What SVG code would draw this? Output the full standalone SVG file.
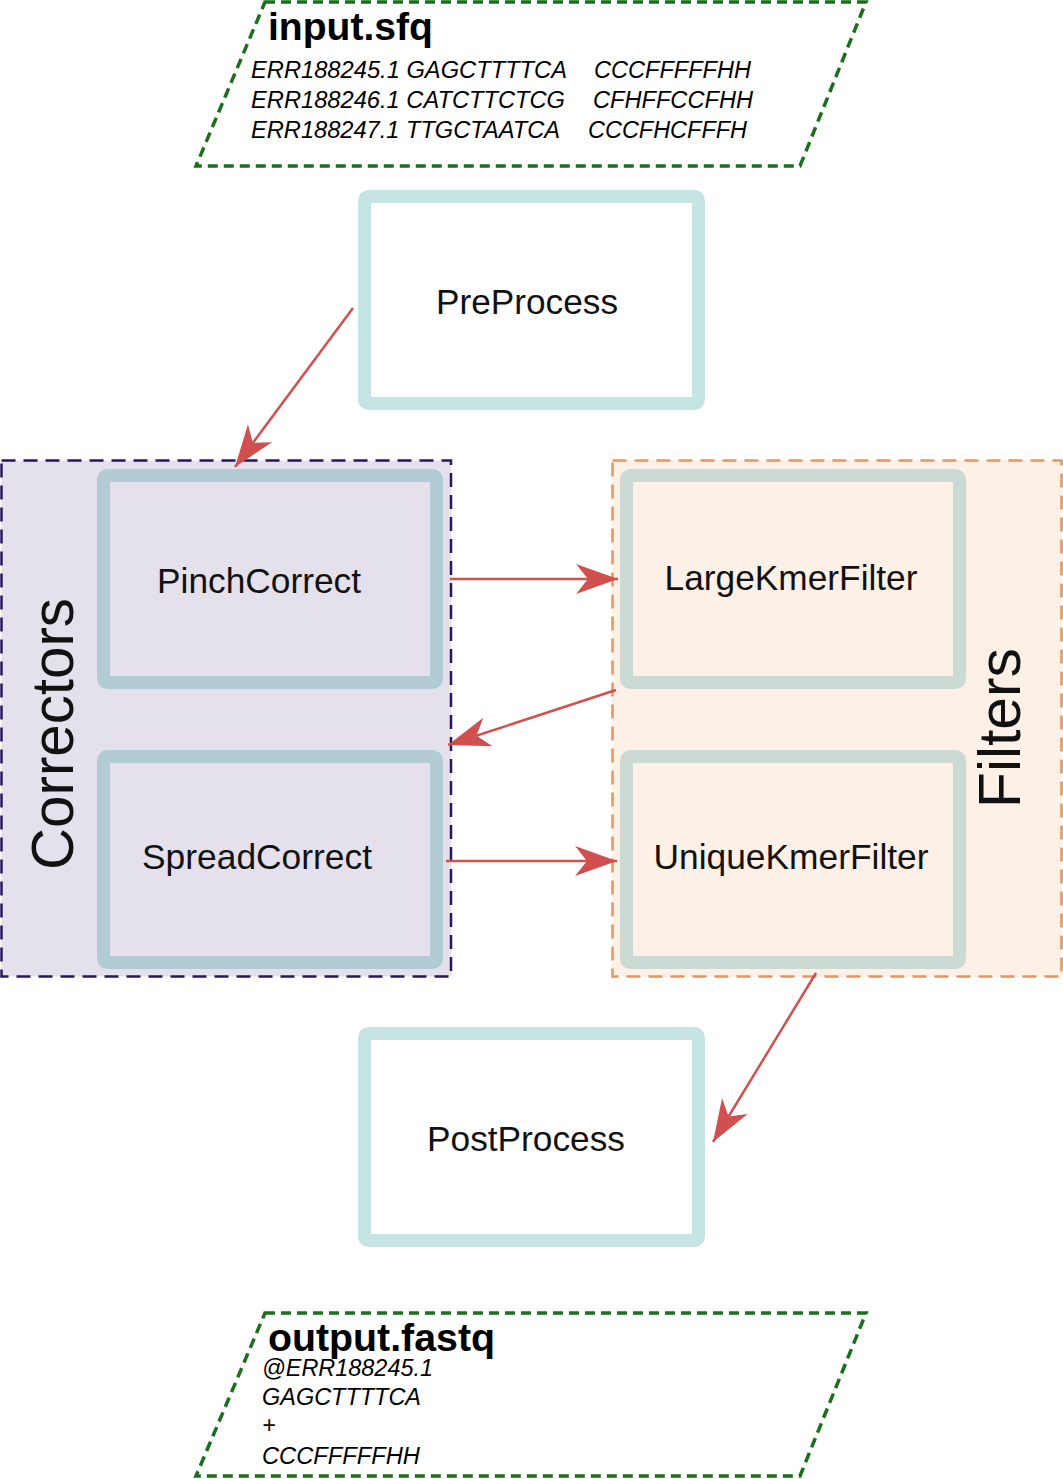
<svg xmlns="http://www.w3.org/2000/svg" width="1063" height="1479" viewBox="0 0 1063 1479">
<style>
.io{fill:#fff;stroke:#1b6e1b;stroke-width:3.5;stroke-dasharray:10,6}
.proc{fill:#fff;stroke:#c5e4e3;stroke-width:13}
.corr{fill:#e4e1ec;stroke:#b3cbd5;stroke-width:13}
.filt{fill:#fdf0e6;stroke:#cbdbd3;stroke-width:13}
.lbl{font-family:"Liberation Sans",Arial,sans-serif;font-size:35px;fill:#111;text-anchor:middle}
.big{font-family:"Liberation Sans",Arial,sans-serif;font-size:59px;fill:#111;text-anchor:middle}
.title{font-family:"Liberation Sans",Arial,sans-serif;font-size:39px;font-weight:bold;fill:#000}
.seq{font-family:"Liberation Sans",Arial,sans-serif;font-size:23.5px;font-style:italic;fill:#000}
.edge{stroke:#d05050;stroke-width:2.5;fill:none}
</style>
<defs>
<marker id="ah" markerUnits="userSpaceOnUse" viewBox="-44 -17 46 34" markerWidth="46" markerHeight="34" refX="0" refY="0" orient="auto">
<path d="M0,0 L-42,-15 L-30,0 L-42,15 Z" fill="#d05050"/>
</marker>
</defs>
<g id="corrs-group">
<rect x="1.5" y="460.5" width="449.5" height="516" fill="#e4e1ec" stroke="#2a1560" stroke-width="2.5" stroke-dasharray="14,8"/>
<text class="big" transform="translate(73,734) rotate(-90)" textLength="272" lengthAdjust="spacingAndGlyphs">Correctors</text>
</g>
<g id="filters-group">
<rect x="612.5" y="460.5" width="449" height="516" fill="#fdf0e6" stroke="#e8955a" stroke-width="2.5" stroke-dasharray="14,8"/>
<text class="big" transform="translate(1020,728) rotate(-90)" textLength="160" lengthAdjust="spacingAndGlyphs">Filters</text>
</g>
<g id="input">
<polygon class="io" points="265,2 866,2 800,166 196,166"/>
<text class="title" x="268" y="40" textLength="165" lengthAdjust="spacingAndGlyphs">input.sfq</text>
<text class="seq" x="251" y="78" textLength="316" lengthAdjust="spacingAndGlyphs">ERR188245.1 GAGCTTTTCA</text>
<text class="seq" x="594" y="78" textLength="157" lengthAdjust="spacingAndGlyphs">CCCFFFFFHH</text>
<text class="seq" x="251" y="108" textLength="314" lengthAdjust="spacingAndGlyphs">ERR188246.1 CATCTTCTCG</text>
<text class="seq" x="593" y="108" textLength="160" lengthAdjust="spacingAndGlyphs">CFHFFCCFHH</text>
<text class="seq" x="251" y="138" textLength="309" lengthAdjust="spacingAndGlyphs">ERR188247.1 TTGCTAATCA</text>
<text class="seq" x="588" y="138" textLength="159" lengthAdjust="spacingAndGlyphs">CCCFHCFFFH</text>
</g>
<g id="preprocess">
<rect class="proc" x="364.5" y="196.5" width="334" height="207" rx="4"/>
<text class="lbl" x="527" y="314" textLength="182" lengthAdjust="spacingAndGlyphs">PreProcess</text>
</g>
<g id="pinchcorrect">
<rect class="corr" x="103.5" y="475.5" width="333" height="207" rx="4"/>
<text class="lbl" x="259" y="593" textLength="204" lengthAdjust="spacingAndGlyphs">PinchCorrect</text>
</g>
<g id="spreadcorrect">
<rect class="corr" x="103.5" y="756.5" width="333" height="206" rx="4"/>
<text class="lbl" x="257" y="869" textLength="230" lengthAdjust="spacingAndGlyphs">SpreadCorrect</text>
</g>
<g id="largekmerfilter">
<rect class="filt" x="626.5" y="475.5" width="333" height="207" rx="4"/>
<text class="lbl" x="791" y="590" textLength="253" lengthAdjust="spacingAndGlyphs">LargeKmerFilter</text>
</g>
<g id="uniquekmerfilter">
<rect class="filt" x="626.5" y="756.5" width="333" height="206" rx="4"/>
<text class="lbl" x="791" y="869" textLength="275" lengthAdjust="spacingAndGlyphs">UniqueKmerFilter</text>
</g>
<g id="postprocess">
<rect class="proc" x="364.5" y="1033.5" width="334" height="207" rx="4"/>
<text class="lbl" x="526" y="1151" textLength="198" lengthAdjust="spacingAndGlyphs">PostProcess</text>
</g>
<g id="output">
<polygon class="io" points="265,1313 866,1313 800,1476 196,1476"/>
<text class="title" x="268" y="1351" textLength="227" lengthAdjust="spacingAndGlyphs">output.fastq</text>
<text class="seq" x="262" y="1376" textLength="171" lengthAdjust="spacingAndGlyphs">@ERR188245.1</text>
<text class="seq" x="262" y="1405" textLength="159" lengthAdjust="spacingAndGlyphs">GAGCTTTTCA</text>
<text class="seq" x="262" y="1433">+</text>
<text class="seq" x="262" y="1464" textLength="158" lengthAdjust="spacingAndGlyphs">CCCFFFFFHH</text>
</g>
<g id="connectors">
<line class="edge" x1="353" y1="308" x2="235" y2="467" marker-end="url(#ah)"/>
<line class="edge" x1="450" y1="579" x2="618" y2="579" marker-end="url(#ah)"/>
<line class="edge" x1="616" y1="690" x2="448" y2="745" marker-end="url(#ah)"/>
<line class="edge" x1="446" y1="861" x2="617" y2="861" marker-end="url(#ah)"/>
<line class="edge" x1="816" y1="973" x2="713" y2="1142" marker-end="url(#ah)"/>
</g>
</svg>
